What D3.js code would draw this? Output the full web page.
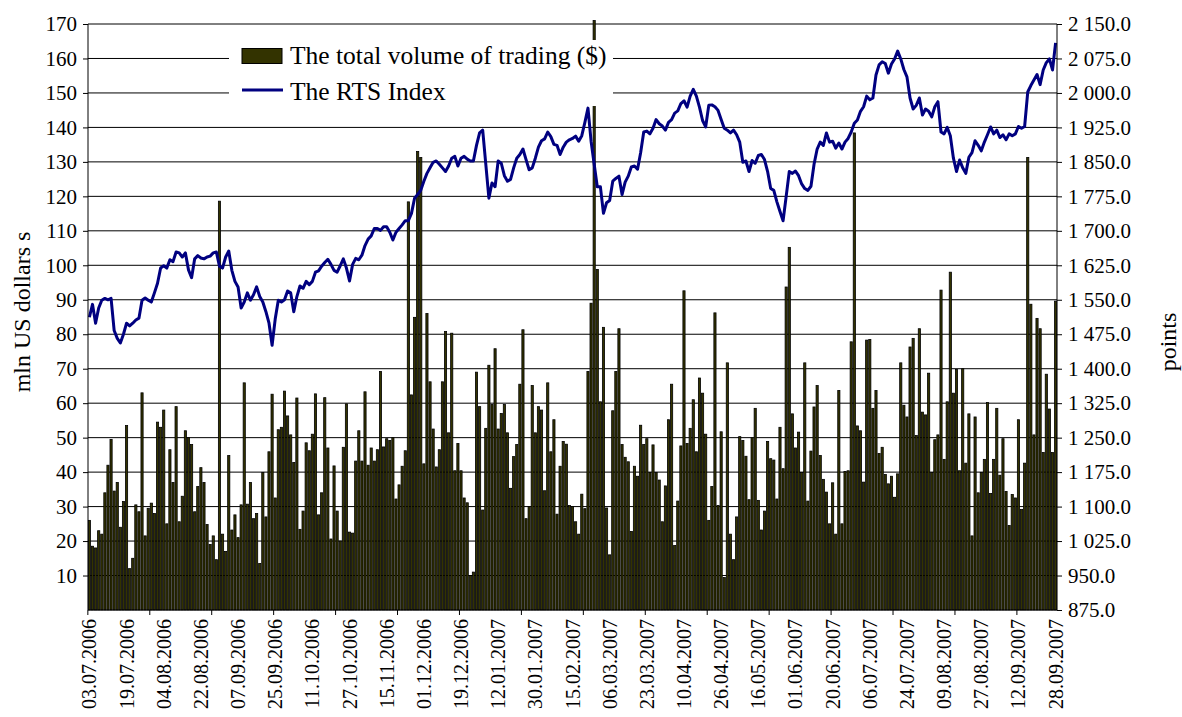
<!DOCTYPE html>
<html>
<head>
<meta charset="utf-8">
<script src="https://cdn.jsdelivr.net/npm/d3@7"></script>
<style>
  html, body { margin: 0; padding: 0; background: #fff; }
  svg text { font-family: "Liberation Serif", "Times New Roman", serif; fill: #000; }
</style>
</head>
<body>
<svg id="chart" width="1182" height="717"></svg>
<script>
// ---- data ----
const tickLabels = ["03.07.2006","19.07.2006","04.08.2006","22.08.2006","07.09.2006","25.09.2006",
  "11.10.2006","27.10.2006","15.11.2006","01.12.2006","19.12.2006","12.01.2007","30.01.2007",
  "15.02.2007","06.03.2007","23.03.2007","10.04.2007","26.04.2007","16.05.2007","01.06.2007",
  "20.06.2007","06.07.2007","24.07.2007","09.08.2007","27.08.2007","12.09.2007","28.09.2007"];

const volume = [
  26, 18.5, 18, 23, 22, 34, 42, 49.5, 34.5, 37, 24, 31.5, 53.5, 12, 15, 30.5, 28.5, 63, 21.5, 29.5, 31, 28, 54.5, 53, 58, 25, 46.5, 37, 59,
  25.6, 33, 52, 50, 48, 28.5, 35.8, 41.3, 37, 24.8, 19, 21.5, 14.6, 118.6, 22, 17, 44.8, 23.2, 27.6, 21, 30.5, 65.9, 30.7, 37, 26.5, 28, 13.5, 39.9, 27, 45.9, 62.6, 32.5, 52.3, 53,
  63.5, 56.3, 50.8, 42.8, 61.5, 23.4, 28.7, 48.5, 46.2, 51, 62.7, 27.6, 34, 61.6, 47, 20.6, 41.8, 28.7, 20, 47.2, 59.8, 22.6, 22.3, 43.2, 52, 43.2, 63.3, 42, 47, 43.2, 46.5,
  69.2, 47.3, 49.7, 49.2, 50, 32.2, 36.3, 41.7, 46.2, 118.4, 62.4, 84.9, 133, 131.3, 42.4, 86, 66.2, 52.5, 41.5, 46.5, 66.2, 80.8, 51.4, 80.3, 40.4, 48.3, 40.4, 32.5, 31.1, 10, 11,
  69, 59, 29, 52.7, 71, 59.6, 75.8, 52.5, 57, 59.6, 51.4, 35.3, 44.5, 48, 65.5, 81.3, 26.5, 30, 65.1, 51.4, 59, 58, 34.6, 65.9, 45.9, 55.2, 27.8, 41.7, 48.9, 48.1, 30.3, 30, 25.6,
  22, 33.6, 29.4, 69.2, 89, 171, 98.8, 60.4, 82, 29.6, 16, 57.8, 69.2, 81.6, 48, 44.3, 43, 22.8, 41.7, 38.8, 53.6, 48, 49.7, 39.9, 47.9, 39.9, 37.7, 25.6, 36, 55.2, 65.5, 18.7,
  31.6, 47.6, 92.6, 48.3, 52.7, 61, 45.9, 67.3, 62.9, 51, 26, 35.8, 86.2, 30.3, 51.7, 9.4, 71.7, 22, 14.6, 27, 50.3, 49.2, 44.6, 32, 50, 58.5, 31.8, 23.2, 28.7, 48.9,
  43.9, 43.5, 32.2, 53, 41, 93.7, 105.2, 56.9, 47, 51.6, 39.9, 71.7, 31.6, 46.1, 58.9, 65.1, 44.8, 37.9, 34.2, 25, 36.9, 22, 63.7, 25, 40.2, 40.4, 77.8, 138.4, 53.4, 52, 37.1, 78.3, 78.5,
  58.5, 63.7, 45.4, 47.2, 39.3, 36.6, 38.8, 32.7, 39.5, 71.7, 59.4, 56, 76.3, 78.8, 50.6, 81.6, 57.4, 56.6, 68.7, 39.9, 49.4, 50.8, 92.8, 43.7, 60.4, 98, 62.9, 69.8, 40.4, 70, 42.6, 56.9,
  21.5, 56, 34, 39.9, 43.7, 60.2, 33.8, 43.7, 58.5, 39.1, 49.7, 34.4, 24.5, 33.5, 32.5, 55.2, 29.2, 42.6, 131.3, 88.7, 50.8, 84.6, 81.6, 45.7, 68.4, 58.3, 45.7, 89.6
];

const rts = [
  1512, 1540, 1499, 1532, 1549, 1553, 1550, 1553, 1483, 1466, 1456, 1475, 1499, 1493, 1499, 1506, 1510, 1549, 1554, 1549, 1545, 1565, 1586, 1619, 1624, 1619, 1637, 1633, 1654,
  1652, 1643, 1652, 1615, 1598, 1639, 1646, 1641, 1639, 1643, 1645, 1652, 1654, 1623, 1619, 1643, 1656, 1614, 1590, 1578, 1532, 1545, 1565, 1549, 1561, 1578, 1557, 1545, 1524, 1499, 1451, 1508, 1549, 1545,
  1550, 1569, 1565, 1524, 1557, 1580, 1575, 1590, 1583, 1590, 1610, 1613, 1623, 1631, 1638, 1627, 1614, 1610, 1624, 1639, 1619, 1591, 1627, 1640, 1637, 1647, 1668, 1682, 1689, 1705, 1705,
  1701, 1709, 1709, 1697, 1680, 1697, 1705, 1713, 1722, 1722, 1738, 1771, 1779, 1788, 1808, 1825, 1837, 1849, 1852, 1845, 1837, 1829, 1841, 1858, 1862, 1841, 1858, 1862, 1856, 1852, 1852,
  1886, 1913, 1919, 1845, 1771, 1804, 1796, 1852, 1847, 1820, 1808, 1812, 1837, 1858, 1866, 1878, 1855, 1833, 1837, 1858, 1882, 1896, 1900, 1915, 1905, 1888, 1886, 1866, 1882, 1893, 1898, 1901, 1906,
  1895, 1907, 1936, 1967, 1895, 1845, 1796, 1796, 1738, 1761, 1766, 1808, 1814, 1819, 1779, 1806, 1819, 1839, 1841, 1834, 1870, 1915, 1917, 1911, 1923, 1942, 1933, 1928, 1919, 1936, 1942, 1956,
  1961, 1977, 1983, 1969, 1993, 2008, 1993, 1969, 1940, 1926, 1973, 1974, 1970, 1962, 1942, 1923, 1919, 1913, 1919, 1909, 1893, 1849, 1852, 1829, 1853, 1847, 1864, 1866, 1855, 1829,
  1792, 1788, 1763, 1742, 1722, 1775, 1829, 1825, 1830, 1820, 1802, 1792, 1788, 1797, 1845, 1878, 1893, 1886, 1913, 1893, 1895, 1880, 1891, 1878, 1893, 1901, 1915, 1934, 1941, 1960, 1970, 1993, 1985,
  1989, 2039, 2061, 2068, 2064, 2043, 2063, 2074, 2091, 2074, 2051, 2035, 1989, 1965, 1973, 1989, 1952, 1965, 1960, 1948, 1970, 1981, 1915, 1911, 1925, 1907, 1858, 1829, 1854, 1837, 1825, 1860,
  1870, 1896, 1886, 1874, 1893, 1909, 1926, 1911, 1919, 1903, 1909, 1898, 1911, 1907, 1911, 1927, 1923, 1927, 2002, 2016, 2028, 2040, 2018, 2050, 2066, 2074, 2050, 2109
];

const leftTicks = [10, 20, 30, 40, 50, 60, 70, 80, 90, 100, 110, 120, 130, 140, 150, 160, 170];
const rightTicks = [875, 950, 1025, 1100, 1175, 1250, 1325, 1400, 1475, 1550, 1625, 1700, 1775, 1850, 1925, 2000, 2075, 2150];
const labelEvery = 12;   // categories between date labels
const tickEvery = 20;    // categories between axis tick marks
const seriesNames = ["The total volume of trading ($)", "The RTS Index"];

// ---- layout ----
const L = 88, R = 1057, T = 24, B = 610;
const svg = d3.select("#chart");
svg.append("rect").attr("width", 1182).attr("height", 717).attr("fill", "#fff");

const days = d3.range(volume.length);
const x = d3.scaleBand().domain(days).range([L, R]).paddingInner(0.3).paddingOuter(0.1);
const yL = d3.scaleLinear().domain([0, 170]).range([B, T]);
const yR = d3.scaleLinear().domain([875, 2150]).range([B, T]);

// gridlines
svg.append("g").selectAll("line").data(leftTicks).join("line")
  .attr("x1", L).attr("x2", R).attr("y1", d => yL(d)).attr("y2", d => yL(d))
  .attr("stroke", "#000").attr("stroke-width", 1);

// bars
svg.append("g").selectAll("rect").data(volume).join("rect")
  .attr("x", (d, i) => x(i)).attr("width", x.bandwidth())
  .attr("y", d => yL(d)).attr("height", d => B - yL(d))
  .attr("fill", "#333300").attr("stroke", "#000").attr("stroke-width", 0.8);

// line
const line = d3.line().x((d, i) => x(i) + x.bandwidth() / 2).y(d => yR(d));
svg.append("path").datum(rts).attr("d", line)
  .attr("fill", "none").attr("stroke", "#000080").attr("stroke-width", 3)
  .attr("stroke-linejoin", "round");

// left axis
const axL = svg.append("g").attr("transform", `translate(${L},0)`)
  .call(d3.axisLeft(yL).tickValues(leftTicks).tickSize(5).tickPadding(6));
axL.select(".domain").attr("d", `M0,${T}V${B}`);
axL.selectAll("text").style("font-size", "21px");

// right axis
const fmtR = d => d3.format(",.1f")(d).replace(",", " ");
const axR = svg.append("g").attr("transform", `translate(${R},0)`)
  .call(d3.axisRight(yR).tickValues(rightTicks).tickFormat(fmtR).tickSize(5).tickPadding(6));
axR.select(".domain").attr("d", `M0,${T}V${B}`);
axR.selectAll("text").style("font-size", "21px");

// bottom axis
svg.append("line").attr("x1", L).attr("x2", R).attr("y1", B).attr("y2", B).attr("stroke", "#000");
const step = x.step();
const tickIdx = days.filter(i => i % tickEvery === 0);
svg.append("g").selectAll("line").data(tickIdx).join("line")
  .attr("x1", i => x(i) - step * x.paddingInner() / 2).attr("x2", i => x(i) - step * x.paddingInner() / 2)
  .attr("y1", B).attr("y2", B + 5).attr("stroke", "#000");
svg.append("g").selectAll("text").data(tickLabels).join("text")
  .attr("transform", (d, k) => `translate(${x(k * labelEvery) + x.bandwidth() / 2 + 7},619) rotate(-90)`)
  .attr("text-anchor", "end").style("font-size", "20px").text(d => d);

// axis titles
svg.append("text").attr("transform", "translate(30,312) rotate(-90)")
  .attr("text-anchor", "middle").style("font-size", "24px").text("mln US dollars s");
svg.append("text").attr("transform", "translate(1176,342) rotate(-90)")
  .attr("text-anchor", "middle").style("font-size", "24px").text("points");

// legend
const lg = svg.append("g");
lg.append("rect").attr("x", 229).attr("y", 40).attr("width", 384).attr("height", 66).attr("fill", "#fff");
lg.append("rect").attr("x", 242).attr("y", 48.5).attr("width", 40).attr("height", 15)
  .attr("fill", "#333300").attr("stroke", "#000").attr("stroke-width", 1);
lg.append("line").attr("x1", 242).attr("x2", 283).attr("y1", 90).attr("y2", 90)
  .attr("stroke", "#000080").attr("stroke-width", 3);
lg.append("text").attr("x", 290).attr("y", 64).style("font-size", "25.5px").text(seriesNames[0]);
lg.append("text").attr("x", 290).attr("y", 100).style("font-size", "25.5px").text(seriesNames[1]);
</script>
</body>
</html>
